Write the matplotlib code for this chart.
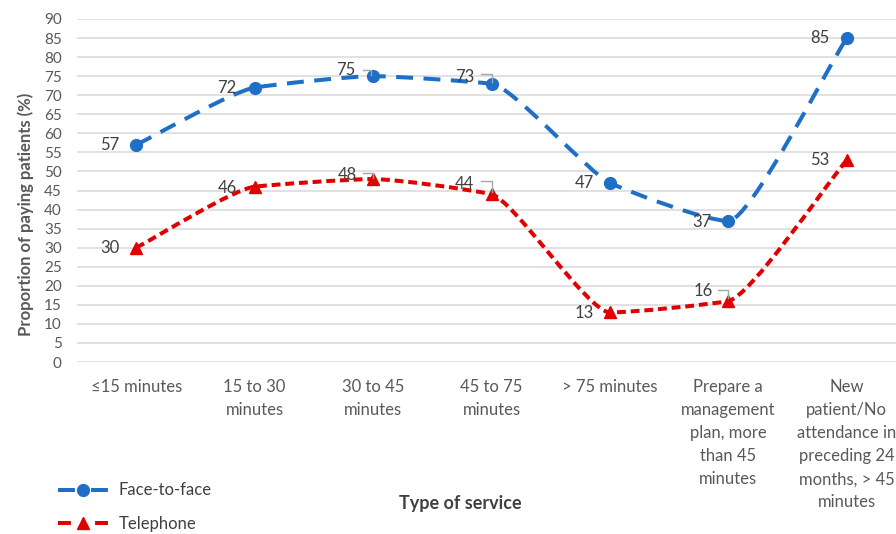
import matplotlib
matplotlib.use("Agg")
import matplotlib.pyplot as plt
import matplotlib.transforms as mtransforms
from matplotlib.path import Path
from matplotlib.patches import PathPatch
from matplotlib.lines import Line2D
import numpy as np

plt.rcParams['font.family'] = ['Lato', 'DejaVu Sans']

categories = ["\u226415 minutes", "15 to 30\nminutes", "30 to 45\nminutes",
              "45 to 75\nminutes", "> 75 minutes",
              "Prepare a\nmanagement\nplan, more\nthan 45\nminutes",
              "New\npatient/No\nattendance in\npreceding 24\nmonths, > 45\nminutes"]
face = [57, 72, 75, 73, 47, 37, 85]
tele = [30, 46, 48, 44, 13, 16, 53]

# label offsets in pixels (dx, dy up) from each marker
face_off = [(-26, 0), (-28, 0), (-27, 6), (-27, 7), (-26, 0), (-26, -1), (-27, 0)]
tele_off = [(-26, 0), (-27, -1), (-26, 4), (-27, 10), (-26, -1), (-25, 10), (-27, 0)]
# leader hooks (pixel offsets from the marker), keyed by point index
face_lead = {2: [(-10, 6), (-2, 6), (-2, 1)], 3: [(-11, 10), (0, 10), (0, 2)]}
tele_lead = {2: [(-10, 6), (0, 6), (0, 1)], 3: [(-11, 13), (0, 13), (0, 2)],
             5: [(-10, 11), (0, 11), (0, 3)]}

BLUE = '#1f6fc6'
RED = '#e00000'
GREY = '#595959'
LW = 2.9
K = 0.55  # how tight the smoothing is


def smooth_path(x, y):
    # cubic Bezier through the points, tangents flattened at peaks/troughs
    x = np.asarray(x, float)
    y = np.asarray(y, float)
    n = len(x)
    d = np.diff(y) / np.diff(x)
    m = np.zeros(n)
    m[0], m[-1] = d[0], d[-1]
    for i in range(1, n - 1):
        if d[i - 1] * d[i] > 0:
            m[i] = 2 * d[i - 1] * d[i] / (d[i - 1] + d[i])
    verts = [(x[0], y[0])]
    codes = [Path.MOVETO]
    for i in range(n - 1):
        h = (x[i + 1] - x[i]) * K / 3
        verts += [(x[i] + h, y[i] + m[i] * h),
                  (x[i + 1] - h, y[i + 1] - m[i + 1] * h),
                  (x[i + 1], y[i + 1])]
        codes += [Path.CURVE4] * 3
    return Path(verts, codes)


fig = plt.figure(figsize=(8.96, 5.34), dpi=100)
ax = fig.add_axes([77 / 896, 172 / 534, 829 / 896, 343 / 534])

xs = np.arange(len(categories))
ax.set_xlim(-0.5, len(categories) - 0.5)
ax.set_ylim(0, 90)
ax.set_yticks(np.arange(0, 91, 5))
ax.yaxis.grid(True, color='#d9d9d9', linewidth=1.1)
ax.set_axisbelow(True)
for s in ax.spines.values():
    s.set_visible(False)
ax.tick_params(axis='both', length=0, colors=GREY)
ax.tick_params(axis='y', labelsize=11, pad=11)
ax.tick_params(axis='x', labelsize=12, pad=12)
ax.set_xticks(xs)
ax.set_xticklabels(categories, linespacing=1.55, va='top', ha='center')

px_trans = mtransforms.Affine2D().scale(1 / 100) + fig.dpi_scale_trans

series = [(face, BLUE, (4.2, 2.6), 'o', face_off, face_lead),
          (tele, RED, (2.2, 1.2), '^', tele_off, tele_lead)]
for vals, col, dash, mk, offs, leads in series:
    pp = PathPatch(smooth_path(xs, vals), fill=False, edgecolor=col,
                   linewidth=LW, linestyle=(0, dash), capstyle='butt')
    ax.add_patch(pp)
    ax.plot(xs, vals, linestyle='none', marker=mk, color=col, markersize=8.5,
            clip_on=False, zorder=4)
    for i, (xv, v, (dx, dy)) in enumerate(zip(xs, vals, offs)):
        ax.annotate(str(v), (xv, v), xytext=(dx * 0.72, dy * 0.72),
                    textcoords='offset points', ha='center', va='center',
                    fontsize=12, color='#404040', zorder=5)
        if i in leads:
            hx, hy = zip(*leads[i])
            hook = Line2D(hx, hy, color='#a6a6a6', lw=1.0, zorder=5)
            hook.set_transform(px_trans + mtransforms.ScaledTranslation(xv, v, ax.transData))
            ax.add_line(hook)

fig.text(26 / 896, 1 - 214 / 534, 'Proportion of paying patients (%)',
         rotation=90, ha='center', va='center', fontsize=12,
         fontweight='bold', color=GREY)
fig.text(460 / 896, 1 - 503 / 534, 'Type of service', ha='center',
         va='center', fontsize=13, fontweight='bold', color='#404040')

handles = [Line2D([], [], color=BLUE, lw=LW, linestyle=(0, (4.2, 4.0)),
                  marker='o', markersize=8.5),
           Line2D([], [], color=RED, lw=LW, linestyle=(0, (3.2, 6.0)),
                  marker='^', markersize=8.5)]
fig.legend(handles, ['Face-to-face', 'Telephone'], loc='upper left',
           bbox_to_anchor=(50 / 896, 1 - 474 / 534), frameon=False,
           handlelength=3.0, handletextpad=0.6, labelspacing=1.05,
           borderpad=0, fontsize=12, labelcolor='#404040', numpoints=1)

fig.savefig('out.png', dpi=100)
